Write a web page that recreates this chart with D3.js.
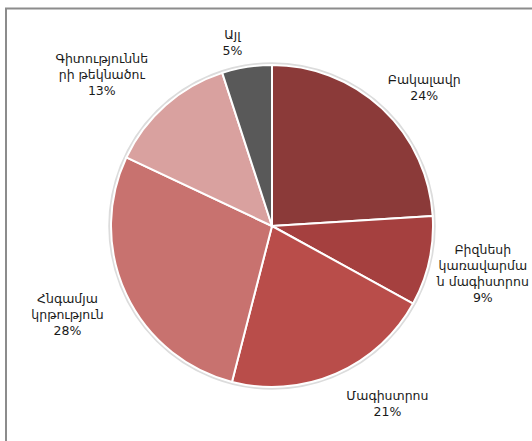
<!DOCTYPE html>
<html><head><meta charset="utf-8">
<script src="https://cdn.jsdelivr.net/npm/d3@7"></script>
<style>
html,body{margin:0;padding:0;background:#fff;}
svg{display:block;}
</style></head>
<body>
<svg id="chart" width="532" height="441"></svg>
<script>
const categories = ["Բակալավր", "Բիզնեսի կառավարման մագիստրոս", "Մագիստրոս", "Հնգամյա կրթություն", "Գիտությունների թեկնածու", "Այլ"];
const values = [24, 9, 21, 28, 13, 5];
const labelLines = [
  ["Բակալավր"],
  ["Բիզնեսի", "կառավարմա", "ն մագիստրոս"],
  ["Մագիստրոս"],
  ["Հնգամյա", "կրթություն"],
  ["Գիտություննե", "րի թեկնածու"],
  ["Այլ"]
];
const colors = ["#8b3a39", "#a5403f", "#b94d4a", "#c8726f", "#d9a19f", "#595959"];

// layout
const W = 532, H = 441;
const cx = 272, cy = 226, R = 161;
const labelR = 215;
const nudges = [[5, 18], [1, 1], [30, -20], [-10, -3], [-28, 10], [-6, 29]];
const lineH = 16;

const svg = d3.select("#chart");

// chart frame (partially visible)
svg.append("rect")
  .attr("x", 6).attr("y", 8.5)
  .attr("width", 700).attr("height", 700)
  .attr("fill", "none").attr("stroke", "#8c8c8c").attr("stroke-width", 2);

const total = d3.sum(values);
const pie = d3.pie().sort(null).value(d => d)(values);
const arc = d3.arc().innerRadius(0).outerRadius(R);
const labelArc = d3.arc().innerRadius(labelR).outerRadius(labelR);

const g = svg.append("g").attr("transform", `translate(${cx},${cy})`);

// soft outline
g.append("circle").attr("r", R + 1.5)
  .attr("fill", "none").attr("stroke", "#dcdcdc").attr("stroke-width", 2.5);

g.selectAll("path.slice").data(pie).join("path")
  .attr("class", "slice")
  .attr("d", arc)
  .attr("fill", (d, i) => colors[i])
  .attr("stroke", "#fff").attr("stroke-width", 2).attr("stroke-linejoin", "round");

const fmt = v => Math.round(v / total * 100) + "%";

pie.forEach((d, i) => {
  const c = labelArc.centroid(d);
  const x = c[0] + nudges[i][0];
  const y = c[1] + nudges[i][1];
  const lines = labelLines[i].concat([fmt(d.value)]);
  const n = lines.length;
  const y0 = y - (n - 1) * lineH / 2 + 4.5;
  const t = g.append("text")
    .attr("text-anchor", "middle")
    .attr("font-family", "'DejaVu Sans', Verdana, sans-serif")
    .attr("font-size", 12.5)
    .attr("fill", "#1a1a1a");
  lines.forEach((ln, k) => {
    t.append("tspan").attr("x", x).attr("y", y0 + k * lineH).text(ln);
  });
});
</script>
</body></html>
